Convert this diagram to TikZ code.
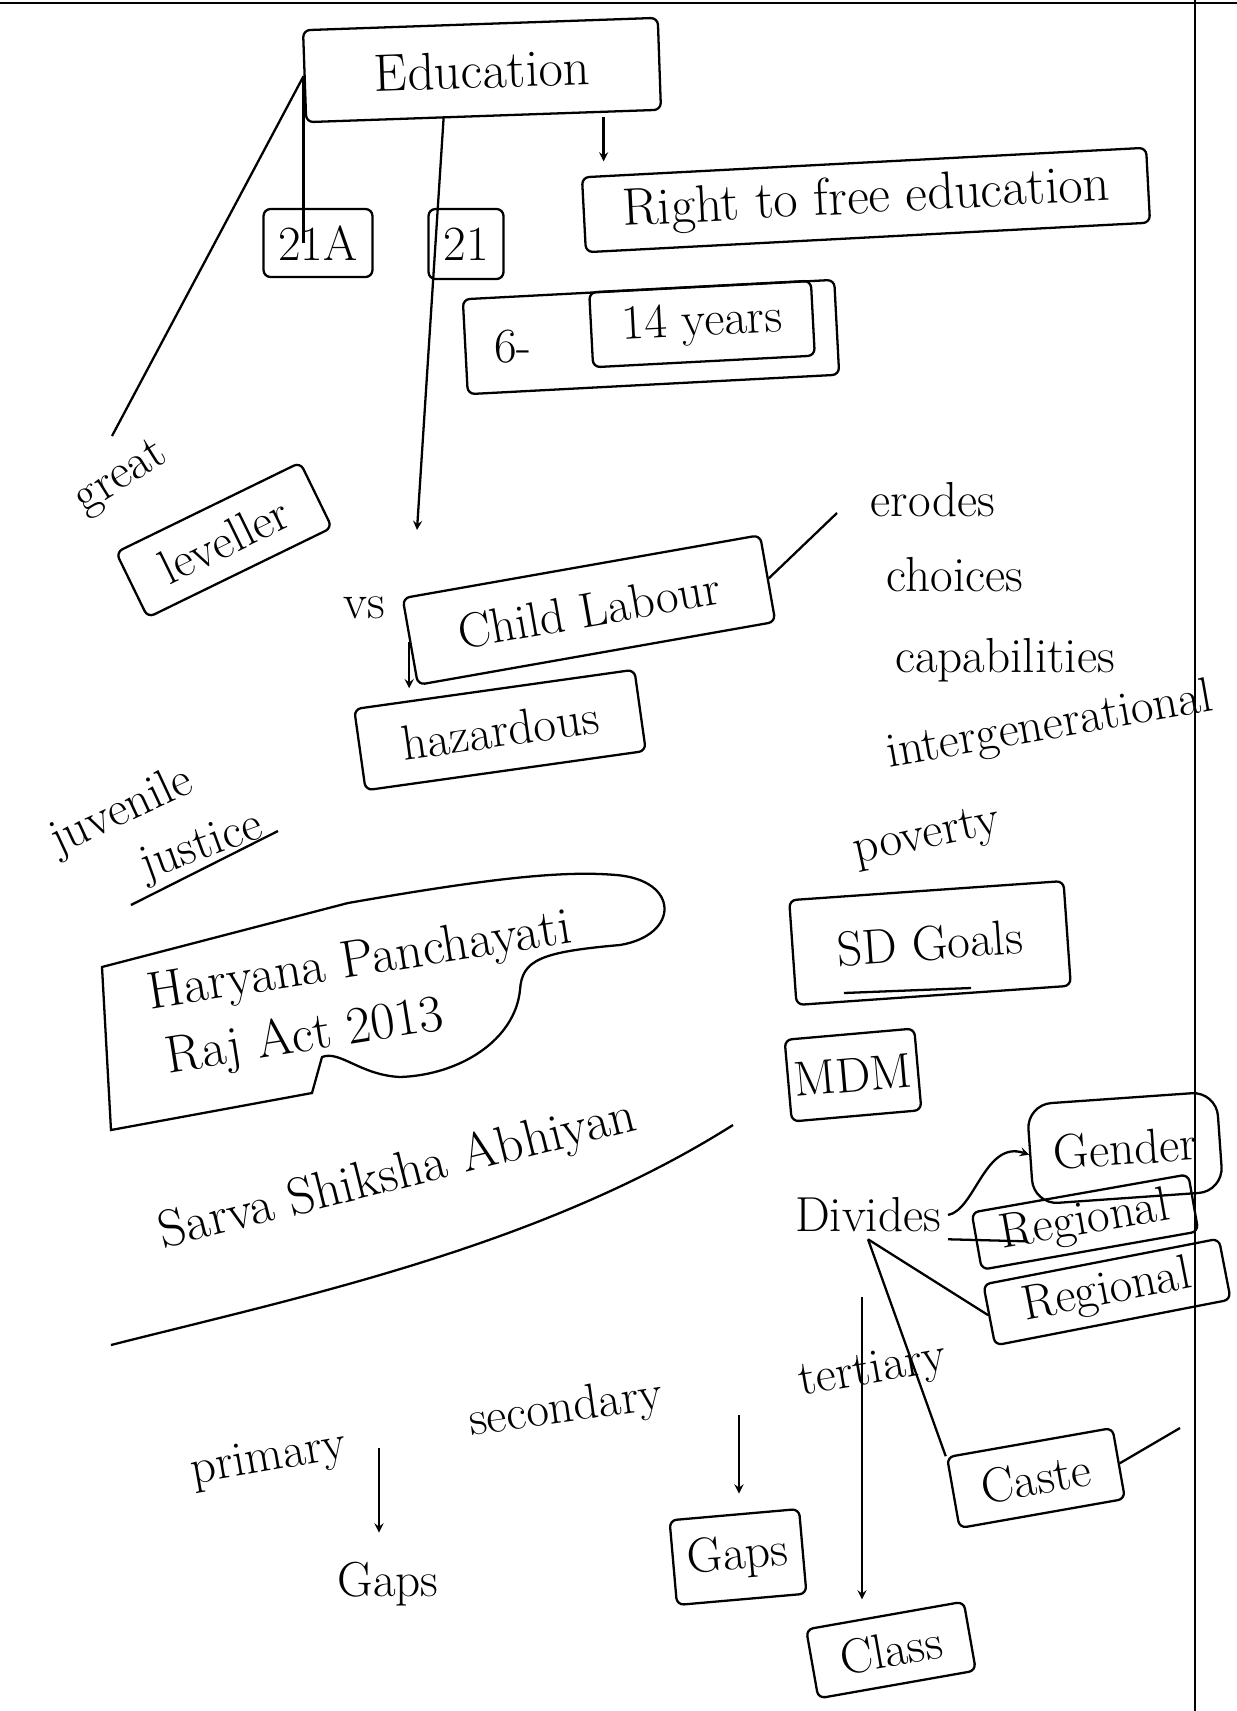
\documentclass[tikz,border=0pt]{standalone}
\usetikzlibrary{calc}
\tikzset{
  hand/.style={font=\fontsize{28}{32}\selectfont},
  big/.style={font=\fontsize{30}{34}\selectfont},
  box/.style={hand, draw, rounded corners=4pt},
  arr/.style={->, >=stealth},
}
\begin{document}
\begin{tikzpicture}[x=0.02cm, y=-0.02cm, line width=1.3pt]
      \useasboundingbox (0,0) rectangle (1237,1711);
      % page edges
      \draw[line width=1.6pt] (0,3) -- (1237,3);
      \draw (1195,0) -- (1195,1711);
      % boxes
      \node[box, big, minimum width=7.1cm, minimum height=1.84cm, rotate=2] (edu) at (482,70) {Education};
      \node[box, minimum width=2.18cm, minimum height=1.36cm] (art21a) at (318,243) {21A};
      \node[box, minimum width=1.5cm, minimum height=1.4cm] (art21) at (466,244) {21};
      \node[box, big, minimum width=11.3cm, minimum height=1.5cm, rotate=3] (rte) at (866,200) {Right to free education};
      \node[box, minimum width=7.44cm, minimum height=1.9cm, rotate=3] (age) at (651,337) {};
      \node[box, minimum width=4.44cm, minimum height=1.5cm, rotate=3] (yrs) at (702,324) {14 years};
      \node[hand] (six) at (513,347) {6-};
      \node[box, minimum width=4.1cm, minimum height=1.45cm, rotate=26] (lev) at (224,540) {leveller};
      \node[box, minimum width=7.26cm, minimum height=1.76cm, rotate=10] (child) at (589,610) {Child Labour};
      \node[box, minimum width=5.66cm, minimum height=1.64cm, rotate=8] (haz) at (500,730) {hazardous};
      \node[box, minimum width=5.5cm, minimum height=2.1cm, rotate=4] (sdg) at (930,943) {SD Goals};
      \node[box, minimum width=2.6cm, minimum height=1.64cm, rotate=5] (mdm) at (853,1075) {MDM};
      \node[box, minimum width=3.8cm, minimum height=2cm, rounded corners=14pt, rotate=4] (gender) at (1125,1148) {Gender};
      \node[box, minimum width=4.4cm, minimum height=1.16cm, rotate=10] (reg1) at (1085,1222) {Regional};
      \node[box, minimum width=4.8cm, minimum height=1.24cm, rotate=11] (reg2) at (1107,1292) {Regional};
      \node[box, minimum width=3.36cm, minimum height=1.44cm, rotate=10] (caste) at (1036,1478) {Caste};
      \node[box, minimum width=2.6cm, minimum height=1.7cm, rotate=5] (gapsB) at (738,1557) {Gaps};
      \node[box, minimum width=3.2cm, minimum height=1.4cm, rotate=10] (cls) at (891,1650) {Class};
      % free text
      \node[hand, rotate=32] (great) at (122,478) {great};
      \node[hand] (vs) at (364,608) {vs};
      \node[hand] (erodes) at (933,500) {erodes};
      \node[hand] (choices) at (955,575) {choices};
      \node[hand] (capab) at (1005,660) {capabilities};
      \node[hand, rotate=10] (intergen) at (1050,727) {intergenerational};
      \node[hand, rotate=12] (poverty) at (927,838) {poverty};
      \node[hand, rotate=25] (juv) at (122,812) {juvenile};
      \node[hand, rotate=20] (just) at (202,848) {justice};
      \node[big, rotate=9] (hry1) at (360,963) {Haryana Panchayati};
      \node[big, rotate=9] (hry2) at (305,1038) {Raj Act 2013};
      \node[big, rotate=14] (sarva) at (398,1176) {Sarva Shiksha Abhiyan};
      \node[hand] (div) at (868,1215) {Divides};
      \node[hand, rotate=10] (prim) at (269,1460) {primary};
      \node[hand, rotate=8] (sec) at (566,1410) {secondary};
      \node[hand, rotate=10] (tert) at (873,1372) {tertiary};
      \node[hand] (gapsA) at (388,1584) {Gaps};
      % loose ends
      \coordinate (gt) at (112,436);
      \coordinate (vsend) at (417,530);
      \coordinate (rtein) at ([xshift=2.4cm]edu.south);
      \coordinate (erd) at (837,513);
      \coordinate (ctail) at (1180,1428);
      \coordinate (pa) at (379,1448);
      \coordinate (sa) at (739,1415);
      \coordinate (ta) at (862,1297);
      % lines
      \draw (edu.west) -- (edu.west |- art21a.center);
      \draw (edu.west) -- (gt);
      \draw[arr] ([xshift=-0.8cm]edu.south) -- (vsend);
      \draw[arr] (rtein) -- (rtein |- rte.north);
      \draw[arr] (child.west) -- (child.west |- haz.north);
      \draw (child.east) -- (erd);
      \draw[arr] (div.east) .. controls (975,1210) and (985,1140) .. (gender.west);
      \draw (div.south east) -- ([xshift=1cm]reg1.west);
      \draw (div.south) -- (reg2.west);
      \draw (div.south) -- (caste.north west);
      \draw (caste.east) -- (ctail);
      \draw[arr, shorten >=0.45cm] (pa) -- (pa |- gapsA.north);
      \draw[arr, shorten >=0.4cm] (sa) -- (sa |- gapsB.north);
      \draw[arr, shorten >=0.3cm] (ta) -- (ta |- cls.north);
      % underlines
      \draw (131,905) -- (278,831);
      \draw (844,993) -- (971,988);
      \draw (111,1345) .. controls (300,1297) and (540,1247) .. (733,1125);
      % speech bubble
      \draw (111,1130) -- (102,967) -- (348,903) .. controls (480,880) and (560,870) .. (616,875)
        .. controls (680,880) and (680,935) .. (620,945) .. controls (540,952) and (522,960) .. (520,990)
        .. controls (515,1040) and (460,1075) .. (400,1077) .. controls (360,1075) and (340,1050) .. (322,1057)
        -- (312,1093) -- cycle;
\end{tikzpicture}
\end{document}
